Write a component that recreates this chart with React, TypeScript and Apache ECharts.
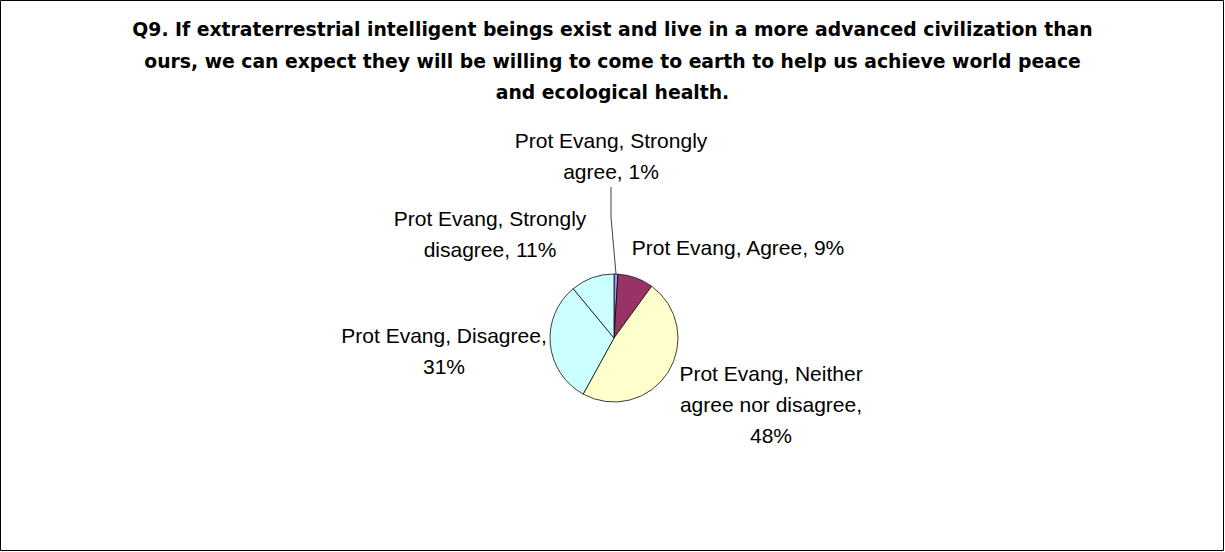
import React, { useEffect, useRef } from "react";
import * as echarts from "echarts";

const seriesName = "Prot Evang";
const categories = [
  "Strongly agree",
  "Agree",
  "Neither agree nor disagree",
  "Disagree",
  "Strongly disagree",
];
const values = [1, 9, 48, 31, 11];
const labelTexts = [
  "Prot Evang, Strongly\nagree, 1%",
  "Prot Evang, Agree, 9%",
  "Prot Evang, Neither\nagree nor disagree,\n48%",
  "Prot Evang, Disagree,\n31%",
  "Prot Evang, Strongly\ndisagree, 11%",
];
const titleLines = [
  "Q9. If extraterrestrial intelligent beings exist and live in a more advanced civilization than",
  "ours, we can expect they will be willing to come to earth to help us achieve world peace",
  "and ecological health.",
];
const sliceColors = ["#9999FF", "#993366", "#FFFFCC", "#CCFFFF", "#CCFFFF"];
const labelPositions = [
  [611, 156],
  [738, 247],
  [771, 404],
  [444, 351],
  [490, 234],
];

export default function App() {
  const ref = useRef<HTMLDivElement>(null);
  useEffect(() => {
    document.body.style.margin = "0";
    const chart = echarts.init(ref.current!, null, { renderer: "svg" });
    const font = "'Liberation Sans', Arial, sans-serif";
    chart.setOption({
      animation: false,
      backgroundColor: "#ffffff",
      title: {
        text: titleLines.join("\n"),
        left: "center",
        top: 9,
        textStyle: {
          fontFamily: "'DejaVu Sans', sans-serif",
          fontWeight: "bold",
          fontSize: 18.8,
          lineHeight: 31.5,
          color: "#000",
        },
      },
      graphic: [
        {
          type: "rect",
          shape: { x: 0.5, y: 0.5, width: 1223, height: 550 },
          style: { fill: "none", stroke: "#000", lineWidth: 1 },
          silent: true,
        },
      ],
      series: [
        {
          type: "pie",
          name: seriesName,
          center: [614, 338],
          radius: 64,
          startAngle: 90,
          clockwise: true,
          avoidLabelOverlap: false,
          itemStyle: { borderColor: "#000", borderWidth: 0.75 },
          label: {
            show: true,
            fontFamily: font,
            fontSize: 21,
            lineHeight: 31,
            color: "#000",
            align: "center",
            formatter: (p: any) => labelTexts[p.dataIndex],
          },
          labelLine: {
            show: false,
            lineStyle: { color: "#000", width: 0.75 },
          },
          labelLayout: (p: any) => {
            const pos = labelPositions[p.dataIndex];
            return { x: pos[0], y: pos[1], align: "center", verticalAlign: "middle" };
          },
          data: categories.map((c, i) => ({
            name: c,
            value: values[i],
            itemStyle: { color: sliceColors[i] },
            labelLine: { show: i === 0 },
          })),
        },
      ],
    });
    return () => chart.dispose();
  }, []);
  return <div ref={ref} style={{ width: 1225, height: 552 }} />;
}
